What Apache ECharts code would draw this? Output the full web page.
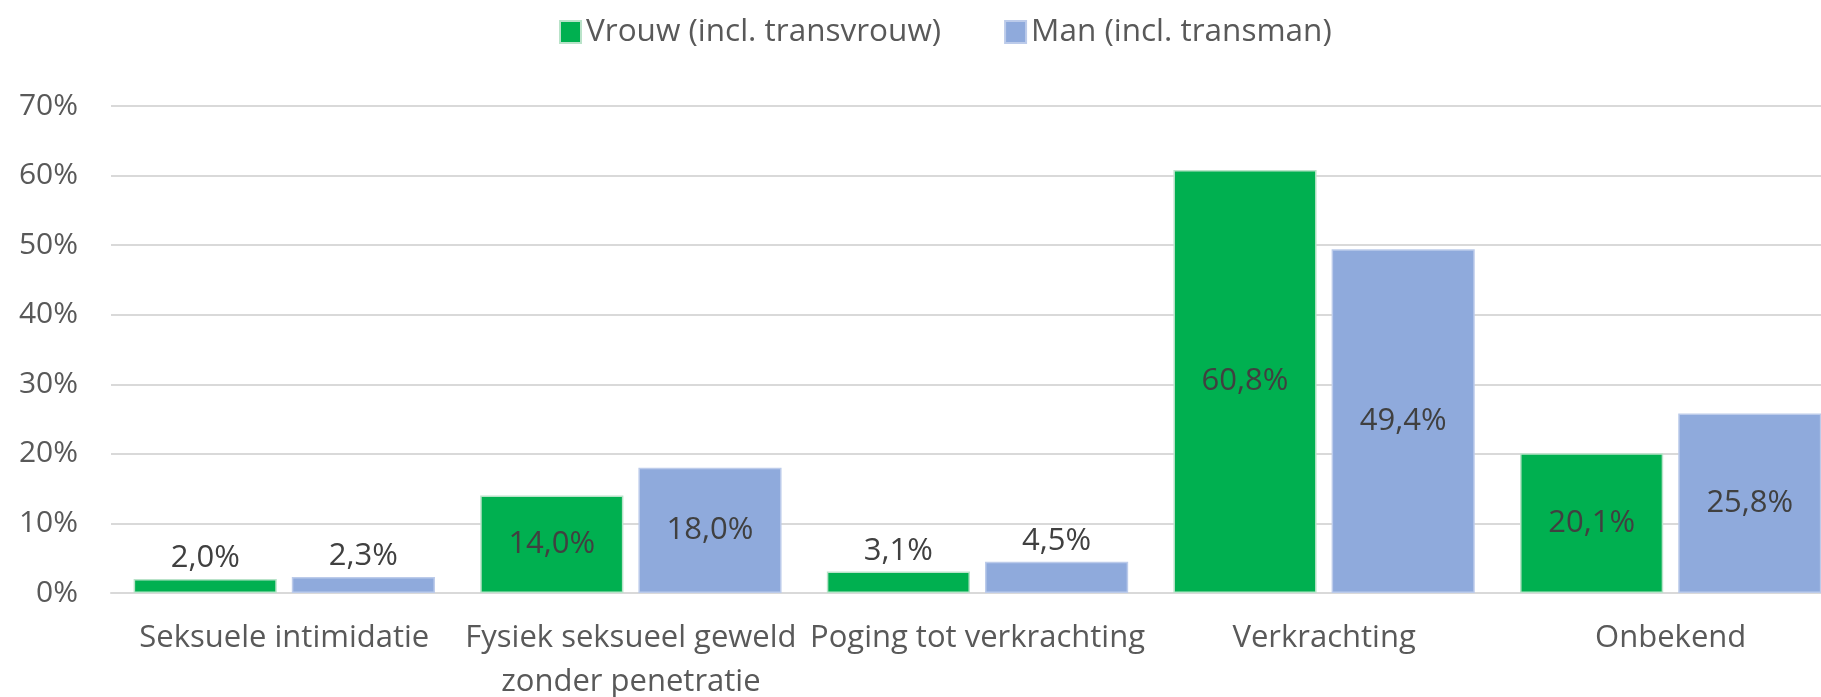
<!DOCTYPE html>
<html>
<head>
<meta charset="utf-8">
<script src="https://cdn.jsdelivr.net/npm/echarts@6/dist/echarts.min.js"></script>
<style>
html,body{margin:0;padding:0;background:#fff;}
#chart{width:1821px;height:697px;}
</style>
</head>
<body>
<div id="chart"></div>
<script>
const categories = [
  "Seksuele intimidatie",
  "Fysiek seksueel geweld\nzonder penetratie",
  "Poging tot verkrachting",
  "Verkrachting",
  "Onbekend"
];
const seriesNames = ["Vrouw (incl. transvrouw)", "Man (incl. transman)"];
const vrouwValues = [2.0, 14.0, 3.1, 60.8, 20.1];
const manValues = [2.3, 18.0, 4.5, 49.4, 25.8];
const yTicks = { min: 0, max: 70, interval: 10 };

const FONT = '"Open Sans"';
const fmt = v => v.toFixed(1).replace('.', ',') + '%';

function buildData(values) {
  return values.map(v => ({
    value: v,
    label: v < 10 ? { position: 'top', distance: 5 } : { position: 'inside' }
  }));
}

const chart = echarts.init(document.getElementById('chart'), null, { renderer: 'canvas' });
chart.setOption({
  backgroundColor: '#ffffff',
  animation: false,
  textStyle: { fontFamily: FONT },
  legend: {
    top: 11,
    left: 554,
    icon: 'rect',
    itemWidth: 21,
    itemHeight: 22,
    itemGap: 63,
    textStyle: { fontFamily: FONT, fontSize: 31.5, color: '#595959' },
    data: seriesNames
  },
  grid: {
    left: 111, right: -23, top: 106, bottom: 104,
    containLabel: false, outerBoundsMode: 'none'
  },
  xAxis: {
    type: 'category',
    data: categories,
    axisTick: { show: false },
    axisLine: { show: true, lineStyle: { color: '#d9d9d9', width: 2 } },
    axisLabel: {
      fontFamily: FONT, fontSize: 31, color: '#595959',
      margin: 23, lineHeight: 44, interval: 0
    }
  },
  yAxis: {
    type: 'value',
    min: yTicks.min, max: yTicks.max, interval: yTicks.interval,
    axisLine: { show: false },
    axisTick: { show: false },
    splitLine: { lineStyle: { color: '#d9d9d9', width: 2 } },
    axisLabel: {
      fontFamily: FONT, fontSize: 30, color: '#595959', margin: 33,
      formatter: '{value}%'
    }
  },
  series: [
    {
      name: seriesNames[0], type: 'bar',
      data: buildData(vrouwValues),
      barWidth: '41.3%', barGap: '10.5%',
      itemStyle: { color: '#00b050', borderColor: '#b9e3c9', borderWidth: 1.5 },
      label: { show: true, formatter: p => fmt(p.value), fontFamily: FONT, fontSize: 31, color: '#404040' }
    },
    {
      name: seriesNames[1], type: 'bar',
      data: buildData(manValues),
      barWidth: '41.3%', barGap: '10.5%',
      itemStyle: { color: '#8faadc', borderColor: '#bccbea', borderWidth: 1.5 },
      label: { show: true, formatter: p => fmt(p.value), fontFamily: FONT, fontSize: 31, color: '#404040' }
    }
  ]
});
</script>
</body>
</html>
